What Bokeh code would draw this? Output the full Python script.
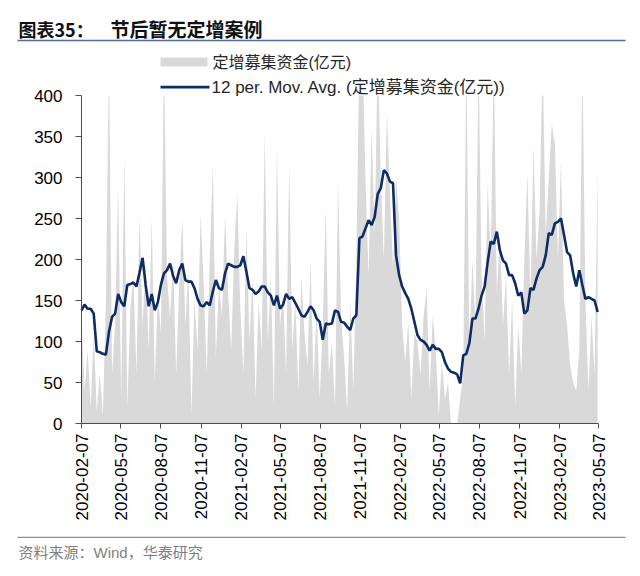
import pandas as pd
from math import pi
from bokeh.plotting import figure
from bokeh.models import (Range1d, FixedTicker, DatetimeTickFormatter, Label,
                          BoxAnnotation, ColumnDataSource)
from bokeh.embed import file_html
from bokeh.resources import INLINE

# ---------------- data (weekly) ----------------
start_date = "2020-02-07"

raw_amount = [
    130, 40, 90, 20, 110, 15, 60, 10, 150, 450,
    60, 120, 290, 30, 330, 20, 140, 180, 60, 256,
    120, 200, 90, 251, 50, 160, 110, 450, 180, 130,
    200, 60, 170, 250, 120, 187, 10, 150, 90, 256,
    170, 60, 200, 317, 80, 170, 130, 256, 160, 90,
    210, 280, 140, 60, 239, 100, 180, 30, 150, 90,
    358, 100, 180, 20, 340, 120, 160, 60, 318, 90,
    150, 40, 180, 110, 70, 200, 50, 140, 30, 120,
    262, 60, 100, 20, 295, 130, 80, 15, 150, 40,
    200, 460, 460, 295, 180, 360, 230, 450, 300, 200,
    380, 280, 190, 300, 250, 120, 75, 124, 30, 110,
    99, 60, 130, 165, 40, 132, 90, 10, 75, 30,
    50, 0, 0, 0, 30, 60, 450, 90, 200, 120,
    450, 180, 100, 293, 200, 450, 160, 230, 120, 180,
    60, 150, 20, 120, 60, 200, 307, 150, 339, 200,
    260, 450, 230, 300, 366, 340, 200, 320, 150, 120,
    70, 50, 40, 90, 450, 150, 40, 130, 60, 311,
]

ma12 = [
    138, 145, 140, 140, 134, 88, 87, 85, 84, 112,
    130, 134, 158, 148, 143, 169, 170, 172, 167, 184,
    202, 169, 143, 158, 138, 148, 169, 183, 187,
    195, 180, 171, 187, 195, 175, 173, 173, 165, 152,
    144, 143, 148, 144, 161, 175, 165, 163, 183, 195,
    193, 191, 191, 193, 204, 185, 165, 163,
    158, 161, 167, 167, 160, 156, 144, 156, 140, 145,
    158, 152, 154, 147, 140, 132, 130, 136, 143, 138,
    128, 124, 102, 122, 121, 122, 138, 136,
    124, 123, 118, 114, 128, 132, 226, 228, 238, 248,
    242, 252, 280, 287, 309, 305, 295, 293, 205, 181,
    167, 159, 152, 140, 124, 108, 102,
    100, 96, 89, 96, 91, 91, 87, 75, 67, 63,
    62, 60, 49, 83, 85, 98, 128, 128, 140, 156,
    167, 197, 222, 219, 234, 211, 199, 195, 181,
    181, 171, 156, 160, 134, 138, 165, 163, 177, 187,
    191, 205, 232, 230, 244, 246, 250, 230, 209, 205,
    183, 167, 187, 169, 152, 154, 152, 150, 136,
]

tick_dates = [
    "2020-02-07", "2020-05-07", "2020-08-07", "2020-11-07",
    "2021-02-07", "2021-05-07", "2021-08-07", "2021-11-07",
    "2022-02-07", "2022-05-07", "2022-08-07", "2022-11-07",
    "2023-02-07", "2023-05-07",
]
y_ticks = [0, 50, 100, 150, 200, 250, 300, 350, 400]
y_min, y_max = 0, 400

series_name = "定增募集资金(亿元)"
ma_name = "12 per. Mov. Avg. (定增募集资金(亿元))"
title_a = "图表35："
title_b = "节后暂无定增案例"
source_text = "资料来源：Wind，华泰研究"

# ---------------- layout (canvas pixels) ----------------
W, H = 640, 576
FL, FR, FT, FB = 81, 598, 95, 423     # where the axes box sits on the canvas

def ms(d):
    return pd.Timestamp(d).value / 1e6

t0, t1 = ms(tick_dates[0]), ms(tick_dates[-1])
k_x = (t1 - t0) / (FR - FL)           # ms per pixel
k_y = (y_max - y_min) / (FB - FT)     # value per pixel

# the plot frame covers the whole canvas; axes are pinned at the box edges
p = figure(width=W, height=H, x_axis_type="datetime",
           x_range=Range1d(t0 - FL * k_x, t1 + (W - FR) * k_x),
           y_range=Range1d(y_min - (H - FB) * k_y, y_max + FT * k_y),
           output_backend="svg", toolbar_location=None, title_location=None,
           min_border=0, min_border_left=0, min_border_right=0,
           min_border_top=0, min_border_bottom=0)
p.outline_line_color = None
p.xgrid.visible = False
p.ygrid.visible = False
p.background_fill_color = "white"
p.border_fill_color = "white"

n = min(len(raw_amount), len(ma12))
dates = pd.date_range(start_date, periods=n, freq="7D")
src = ColumnDataSource(dict(date=dates, raw=raw_amount[:n], ma=ma12[:n]))

p.varea(x="date", y1=0, y2="raw", source=src, fill_color="#d9d9d9")
p.line(x="date", y="ma", source=src, line_color="#0f2b63", line_width=2.6)

# hide whatever rises above the axis maximum (acts as the box clip)
mask = BoxAnnotation(bottom=y_max, fill_color="white", fill_alpha=1,
                     line_color=None, level="glyph")
p.renderers.append(mask)

FONT = "Liberation Sans, Noto Sans CJK SC"
CJK = "Noto Sans CJK SC"
AXC = "#4d4d4d"

# x axis
xa = p.xaxis[0]
xa.fixed_location = y_min
xa.bounds = (t0, t1)
xa.ticker = FixedTicker(ticks=[ms(d) for d in tick_dates])
fmt = "%Y-%m-%d"
xa.formatter = DatetimeTickFormatter(
    microseconds=fmt, milliseconds=fmt, seconds=fmt, minsec=fmt, minutes=fmt,
    hourmin=fmt, hours=fmt, days=fmt, months=fmt, years=fmt)
xa.major_label_orientation = pi / 2
xa.major_label_text_font = FONT
xa.major_label_text_font_size = "17px"
xa.major_label_text_color = "#000000"
xa.major_label_standoff = 5
xa.major_tick_out = 5
xa.major_tick_in = 0
xa.minor_tick_line_color = None
xa.axis_line_color = AXC
xa.major_tick_line_color = AXC

# y axis
ya = p.yaxis[0]
ya.fixed_location = t0
ya.bounds = (y_min, y_max)
ya.ticker = FixedTicker(ticks=y_ticks)
ya.major_label_text_font = FONT
ya.major_label_text_font_size = "17px"
ya.major_label_text_color = "#000000"
ya.major_label_standoff = 13
ya.major_tick_out = 6
ya.major_tick_in = 0
ya.minor_tick_line_color = None
ya.axis_line_color = AXC
ya.major_tick_line_color = AXC

# screen units: x from the canvas left, y up from the canvas bottom
def sy(cy):
    return H - cy

def box(x0, x1, y0, y1, color):
    return BoxAnnotation(left=x0, right=x1, top=sy(y0), bottom=sy(y1),
                         left_units="screen", right_units="screen",
                         top_units="screen", bottom_units="screen",
                         fill_color=color, fill_alpha=1, line_color=None)

def label(cx, cy, text, font, size, color, bold=False):
    return Label(x=cx, y=sy(cy), x_units="screen", y_units="screen", text=text,
                 text_font=font, text_font_size=size, text_color=color,
                 text_font_style="bold" if bold else "normal",
                 text_baseline="middle", text_align="left")

# title
p.add_layout(label(18, 28, title_a, CJK, "18px", "#111111", bold=True))
p.add_layout(label(110, 28, title_b, CJK, "19px", "#111111", bold=True))
p.add_layout(box(17, 625, 39.2, 40.8, "#4f6d98"))

# legend
p.add_layout(box(160, 207, 57, 66, "#d9d9d9"))
p.add_layout(box(160, 209, 85.3, 87.9, "#0f2b63"))
p.add_layout(label(212, 62, series_name, FONT, "16px", "#262626"))
p.add_layout(label(211, 87, ma_name, FONT, "17px", "#262626"))

# source
p.add_layout(box(17, 625, 536.3, 537.5, "#7d92b3"))
p.add_layout(label(18, 552, source_text, FONT, "15px", "#7f7f7f"))

open("out.html", "w").write(file_html(p, INLINE))
